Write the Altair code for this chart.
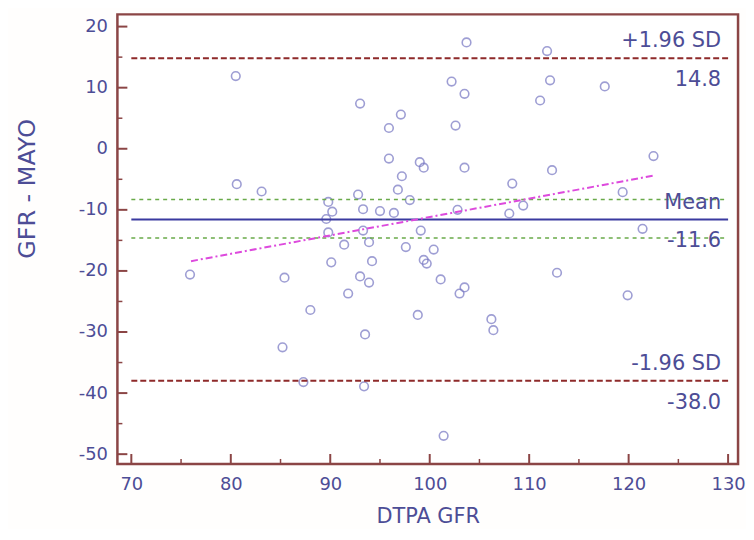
import altair as alt
import pandas as pd

# ---- data ----
dtpa = [80.5, 93.0, 97.1, 95.9, 95.9, 99.0, 99.4, 97.2, 96.8, 80.6,
        83.1, 89.8, 92.8, 98.0, 90.2, 93.3, 95.0, 96.4, 89.6, 89.8,
        91.4, 93.3, 93.9, 97.6, 99.1, 99.4, 99.7, 90.1, 94.2, 93.0,
        93.9, 91.8, 75.9, 85.4, 88.0, 98.8, 93.5, 85.2, 87.3, 93.4,
        103.7, 111.8, 102.2, 112.1, 103.5, 117.6, 111.1, 102.6, 103.5, 112.3,
        122.5, 108.3, 119.4, 102.8, 109.4, 108.0, 121.4, 100.4, 101.1, 103.5,
        103.0, 112.8, 119.9, 106.2, 106.4, 101.4]
diff = [11.9, 7.4, 5.6, 3.4, -1.6, -2.2, -3.1, -4.5, -6.7, -5.8,
        -7.0, -8.7, -7.5, -8.4, -10.3, -9.9, -10.2, -10.5, -11.5, -13.7,
        -15.7, -13.4, -15.3, -16.1, -13.4, -18.2, -18.8, -18.6, -18.4, -20.9,
        -21.9, -23.7, -20.6, -21.1, -26.4, -27.2, -30.4, -32.5, -38.2, -38.9,
        17.4, 16.0, 11.0, 11.2, 9.0, 10.2, 7.9, 3.8, -3.1, -3.5,
        -1.2, -5.7, -7.1, -10.0, -9.3, -10.6, -13.1, -16.5, -21.4, -22.7,
        -23.7, -20.3, -24.0, -27.9, -29.7, -47.0]

mean_val = -11.6
upper_loa = 14.8
lower_loa = -38.0
ci_mean = [-8.3, -14.6]
reg_x = [76.0, 122.5]
reg_y = [-18.4, -4.4]

label_top = ["+1.96 SD", "Mean", "-1.96 SD"]
label_bottom = ["14.8", "-11.6", "-38.0"]
label_values = [upper_loa, mean_val, lower_loa]

x_major = [70, 80, 90, 100, 110, 120, 130]
x_minor = [75, 85, 95, 105, 115, 125]
y_major = [-50, -40, -30, -20, -10, 0, 10, 20]
y_minor = [-45, -35, -25, -15, -5, 5, 15]

# ---- style ----
W, H = 624, 452
FONT = "DejaVu Sans"
TXT = "#4d4d96"
FRAME = "#8b4545"

xs = alt.Scale(domain=[68.6, 131], nice=False, zero=False)
ys = alt.Scale(domain=[-51.6, 22], nice=False, zero=False)

pts = pd.DataFrame({"x": dtpa, "y": diff})

points = alt.Chart(pts).mark_point(
    shape="circle", filled=False, size=75, strokeWidth=1.6, color="#7676c2", clip=True
).encode(
    x=alt.X("x:Q", scale=xs, axis=alt.Axis(
        title="DTPA GFR", values=x_major, grid=False, domain=False, ticks=False,
        labelExpr="'' + datum.value",
        labelFont=FONT, labelFontSize=18, labelColor=TXT, labelPadding=12,
        titleFont=FONT, titleFontSize=21, titleFontWeight="normal", titleColor=TXT,
        titlePadding=12)),
    y=alt.Y("y:Q", scale=ys, axis=alt.Axis(
        title="GFR - MAYO", values=y_major, grid=False, domain=False, ticks=False,
        labelExpr="'' + datum.value",
        labelFont=FONT, labelFontSize=18, labelColor=TXT, labelPadding=10,
        titleFont=FONT, titleFontSize=24, titleFontWeight="normal", titleColor=TXT,
        titleAngle=270, titleX=-90, titleY=175, titleAlign="center",
        titleBaseline="middle")),
)

loa_df = pd.DataFrame({"v": [upper_loa, lower_loa], "x0": [70, 70], "x1": [130, 130]})
loa = alt.Chart(loa_df).mark_rule(color="#8e2a2a", strokeWidth=2, strokeDash=[6, 3]).encode(
    y=alt.Y("v:Q", scale=ys), x=alt.X("x0:Q", scale=xs), x2="x1:Q")

ci_df = pd.DataFrame({"v": ci_mean, "x0": [70, 70], "x1": [130, 130]})
ci = alt.Chart(ci_df).mark_rule(color="#6aaa4a", strokeWidth=1.5, strokeDash=[4, 4]).encode(
    y=alt.Y("v:Q", scale=ys), x=alt.X("x0:Q", scale=xs), x2="x1:Q")

mean_df = pd.DataFrame({"v": [mean_val], "x0": [70], "x1": [130]})
mean_line = alt.Chart(mean_df).mark_rule(color="#3a3aa0", strokeWidth=2).encode(
    y=alt.Y("v:Q", scale=ys), x=alt.X("x0:Q", scale=xs), x2="x1:Q")

reg_df = pd.DataFrame({"x": reg_x, "y": reg_y})
reg = alt.Chart(reg_df).mark_line(color="#dd4add", strokeWidth=2, strokeDash=[7, 3, 2, 3]).encode(
    x=alt.X("x:Q", scale=xs), y=alt.Y("y:Q", scale=ys))

lab_df = pd.DataFrame({"v": label_values, "top": label_top, "bottom": label_bottom})
txt_top = alt.Chart(lab_df).mark_text(
    align="right", baseline="middle", dy=-17, font=FONT, fontSize=21, color=TXT
).encode(y=alt.Y("v:Q", scale=ys), x=alt.value(607), text="top:N")
txt_bot = alt.Chart(lab_df).mark_text(
    align="right", baseline="middle", dy=22, font=FONT, fontSize=21, color=TXT
).encode(y=alt.Y("v:Q", scale=ys), x=alt.value(607), text="bottom:N")

# inward tick marks
xmaj = alt.Chart(pd.DataFrame({"v": x_major})).mark_rule(color=FRAME, strokeWidth=2).encode(
    x=alt.X("v:Q", scale=xs), y=alt.value(H), y2=alt.value(H - 10))
xmin = alt.Chart(pd.DataFrame({"v": x_minor})).mark_rule(color=FRAME, strokeWidth=1.5).encode(
    x=alt.X("v:Q", scale=xs), y=alt.value(H), y2=alt.value(H - 5))
ymaj = alt.Chart(pd.DataFrame({"v": y_major})).mark_rule(color=FRAME, strokeWidth=2).encode(
    y=alt.Y("v:Q", scale=ys), x=alt.value(0), x2=alt.value(10))
ymin = alt.Chart(pd.DataFrame({"v": y_minor})).mark_rule(color=FRAME, strokeWidth=1.5).encode(
    y=alt.Y("v:Q", scale=ys), x=alt.value(0), x2=alt.value(5))

chart = alt.layer(
    points, ci, mean_line, loa, reg, txt_top, txt_bot, xmaj, xmin, ymaj, ymin
).properties(
    width=W, height=H,
    autosize=alt.AutoSizeParams(type="none"),
    padding={"left": 110, "top": 5, "right": 8, "bottom": 64},
    background="#fffefd",
).configure_view(
    stroke=FRAME, strokeWidth=2.5, fill="white"
)

chart.save("out.html", embed_options={"renderer": "svg", "actions": False})
